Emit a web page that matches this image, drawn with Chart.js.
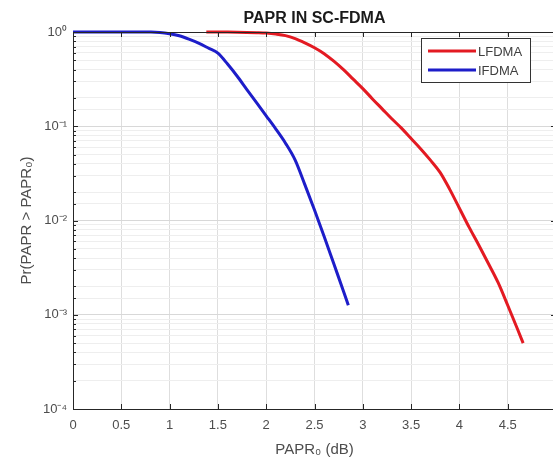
<!DOCTYPE html>
<html>
<head>
<meta charset="utf-8">
<title>PAPR IN SC-FDMA</title>
<script src="https://cdn.jsdelivr.net/npm/chart.js@4/dist/chart.umd.min.js"></script>
<style>
    html, body { margin: 0; padding: 0; background: #fff; overflow: hidden; }
    #wrap { width: 553px; height: 459px; overflow: hidden; }
</style>
</head>
<body>
<div id="wrap"><canvas id="paprChart" width="600" height="459"></canvas></div>
<script>
// CCDF of PAPR for the two subcarrier mappings
const xIfdma = [0, 0.2, 0.4, 0.6, 0.8, 0.9, 1.0, 1.1, 1.2, 1.3, 1.4, 1.5, 1.6, 1.7, 1.8, 1.9,
    2.0, 2.1, 2.2, 2.3, 2.4, 2.5, 2.6, 2.7, 2.8, 2.85];
const pIfdma = [1, 1, 1, 1, 0.998, 0.99, 0.96, 0.912, 0.84, 0.762, 0.676, 0.596, 0.457, 0.339, 0.245, 0.178,
    0.129, 0.0933, 0.0661, 0.0437, 0.024, 0.0129, 0.00676, 0.00347, 0.00178, 0.00126];

const xLfdma = [1.38, 1.5, 1.6, 1.7, 1.8, 1.9, 2.0, 2.1, 2.2, 2.3, 2.4, 2.5, 2.6, 2.7, 2.8, 2.9,
    3.0, 3.1, 3.2, 3.3, 3.4, 3.5, 3.6, 3.7, 3.8, 3.9, 4.0, 4.1, 4.2, 4.3, 4.4, 4.5, 4.6, 4.66];
const pLfdma = [1, 1, 0.998, 0.995, 0.99, 0.983, 0.973, 0.951, 0.916, 0.851, 0.767, 0.681, 0.589, 0.490, 0.398, 0.316,
    0.251, 0.195, 0.153, 0.120, 0.0955, 0.0741, 0.0575, 0.0437, 0.0324, 0.0214, 0.0135, 0.0085, 0.0055, 0.0035,
    0.0022, 0.00126, 0.00071, 0.0005];

const seriesLabels = ['LFDMA', 'IFDMA'];
const xTickLabels = ['0', '0.5', '1', '1.5', '2', '2.5', '3', '3.5', '4', '4.5', '5'];
const yTickLabels = ['10\u207B\u2074', '10\u207B\u00B3', '10\u207B\u00B2', '10\u207B\u00B9', '10\u2070'];

const toPoints = (xs, ys) => xs.map((x, i) => ({ x: x, y: ys[i] }));
const isDecade = v => Math.abs(Math.log10(v) - Math.round(Math.log10(v))) < 1e-6;

/**
 * Box outline, inward tick marks and the legend
 */
const boxPlugin = {
    id: 'matlabBox',
    afterDraw(chart) {
        const { ctx, chartArea: a, scales: { x, y } } = chart;
        ctx.save();
        ctx.strokeStyle = '#262626';
        ctx.lineWidth = 1;

        // top and right edges
        ctx.beginPath();
        ctx.moveTo(a.left, a.top + 0.5);
        ctx.lineTo(a.right, a.top + 0.5);
        ctx.moveTo(a.right - 0.5, a.top);
        ctx.lineTo(a.right - 0.5, a.bottom);
        ctx.stroke();

        // x ticks (bottom and top)
        ctx.beginPath();
        for (let i = 0; i < xTickLabels.length; i++) {
            const px = Math.round(x.getPixelForValue(i * 0.5)) + 0.5;
            ctx.moveTo(px, a.bottom);
            ctx.lineTo(px, a.bottom - 5);
            ctx.moveTo(px, a.top);
            ctx.lineTo(px, a.top + 5);
        }
        // y ticks (left and right), minor ones shorter
        y.ticks.forEach(t => {
            const py = Math.round(y.getPixelForValue(t.value)) + 0.5;
            const len = isDecade(t.value) ? 5 : 3;
            ctx.moveTo(a.left, py);
            ctx.lineTo(a.left + len, py);
            ctx.moveTo(a.right, py);
            ctx.lineTo(a.right - len, py);
        });
        ctx.stroke();

        // legend
        const bx = a.right - 135, by = a.top + 6, bw = 109, bh = 44;
        ctx.fillStyle = '#ffffff';
        ctx.fillRect(bx, by, bw, bh);
        ctx.strokeStyle = '#333333';
        ctx.strokeRect(bx + 0.5, by + 0.5, bw, bh);
        ctx.font = '13px "Liberation Sans", Arial, sans-serif';
        ctx.textBaseline = 'middle';
        chart.data.datasets.forEach((ds, i) => {
            const ly = by + 13 + i * 19;
            ctx.strokeStyle = ds.borderColor;
            ctx.lineWidth = 3;
            ctx.beginPath();
            ctx.moveTo(bx + 7, ly);
            ctx.lineTo(bx + 55, ly);
            ctx.stroke();
            ctx.fillStyle = '#404040';
            ctx.fillText(ds.label, bx + 57, ly + 1);
        });
        ctx.restore();
    }
};

document.addEventListener('DOMContentLoaded', () => {
    const ctx = document.getElementById('paprChart');
    new Chart(ctx, {
        type: 'line',
        data: {
            datasets: [
                {
                    label: seriesLabels[0],
                    data: toPoints(xLfdma, pLfdma),
                    borderColor: '#e31a22',
                    borderWidth: 3,
                    pointRadius: 0,
                    cubicInterpolationMode: 'monotone',
                    clip: 4
                },
                {
                    label: seriesLabels[1],
                    data: toPoints(xIfdma, pIfdma),
                    borderColor: '#1d1dc9',
                    borderWidth: 3,
                    pointRadius: 0,
                    cubicInterpolationMode: 'monotone',
                    clip: 4
                }
            ]
        },
        options: {
            responsive: false,
            animation: false,
            devicePixelRatio: 1,
            layout: { padding: { left: 0, right: 44, top: 0, bottom: 0 } },
            plugins: {
                legend: { display: false },
                tooltip: { enabled: false },
                title: {
                    display: true,
                    fullSize: false,
                    text: 'PAPR IN SC-FDMA',
                    color: '#1a1a1a',
                    font: { family: '"Liberation Sans", Arial, sans-serif', size: 16, weight: 'bold', lineHeight: 1.2 },
                    padding: { top: 8.9, bottom: 3.9 }
                }
            },
            scales: {
                x: {
                    type: 'linear',
                    min: 0,
                    max: 5,
                    afterFit: s => { s.height = 50; },
                    ticks: {
                        stepSize: 0.5,
                        autoSkip: false,
                        maxRotation: 0,
                        padding: 9,
                        color: '#4d4d4d',
                        font: { family: '"Liberation Sans", Arial, sans-serif', size: 13 },
                        callback: v => xTickLabels[Math.round(v / 0.5)]
                    },
                    grid: { color: '#dedede', drawTicks: false },
                    border: { color: '#262626', width: 1 },
                    title: {
                        display: true,
                        text: 'PAPR\u2080 (dB)',
                        color: '#4d4d4d',
                        padding: 0,
                        font: { family: '"Liberation Sans", Arial, sans-serif', size: 15, lineHeight: 1.2 }
                    }
                },
                y: {
                    type: 'logarithmic',
                    min: 1e-4,
                    max: 1,
                    afterFit: s => { s.width = 73; },
                    ticks: {
                        autoSkip: false,
                        padding: 6,
                        color: '#4d4d4d',
                        font: { family: '"Liberation Sans", Arial, sans-serif', size: 13 },
                        callback: v => isDecade(v) ? yTickLabels[Math.round(Math.log10(v)) + 4] : ''
                    },
                    grid: {
                        drawTicks: false,
                        color: c => (c.tick && isDecade(c.tick.value)) ? '#d8d8d8' : '#eeeeee'
                    },
                    border: { color: '#262626', width: 1 },
                    title: {
                        display: true,
                        text: 'Pr(PAPR > PAPR\u2080)',
                        color: '#4d4d4d',
                        padding: { top: 18, bottom: 0 },
                        font: { family: '"Liberation Sans", Arial, sans-serif', size: 15, lineHeight: 1.2 }
                    }
                }
            }
        },
        plugins: [boxPlugin]
    });
});
</script>
</body>
</html>
